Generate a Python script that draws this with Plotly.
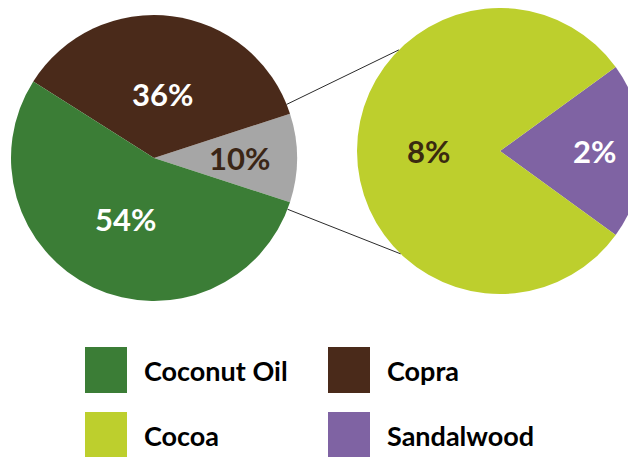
import math
import plotly.graph_objects as go

# Left pie: export share
main_labels = ['Other', 'Copra', 'Coconut Oil']
main_values = [10, 36, 54]
main_colors = ['#a6a6a6', '#4a2a1a', '#3b7d36']
main_text_colors = ['#3b2616', '#ffffff', '#ffffff']

# Right pie: breakdown of "Other"
sub_labels = ['Sandalwood', 'Cocoa']
sub_values = [2, 8]
sub_colors = ['#7f63a3', '#bdcf2d']
sub_text_colors = ['#ffffff', '#3a2a10']

legend_labels = ['Coconut Oil', 'Copra', 'Cocoa', 'Sandalwood']
legend_colors = ['#3b7d36', '#4a2a1a', '#bdcf2d', '#7f63a3']

W, H = 636, 457
OFF = 8  # body margin of the html page
FONT = 'Lato, "Open Sans", sans-serif'

# pie domains in page pixels (x0, x1, y_top, y_bottom)
L_DOM = (11, 297, 15, 301)
R_DOM = (357, 643, 8, 294)
# first slice starts (math degrees) so the first slice is centred on 3 o'clock
L_START, R_START = -18, -36


def px(x, y):
    return (x - OFF) / W, 1 - (y - OFF) / H


def geom(dom):
    x0, x1, y0, y1 = dom
    r = min(x1 - x0, y1 - y0) / 2
    return (x0 + x1) / 2, (y0 + y1) / 2, r


def rotation_for(values, start):
    # plotly (counterclockwise): first slice spans compass [rot, rot + w0]
    w0 = values[0] / sum(values) * 360
    return 90 - start - w0


def slice_angles(values, start):
    total = sum(values)
    out, cum = [], 0
    for v in values:
        a0 = start + cum / total * 360
        cum += v
        out.append((a0, start + cum / total * 360))
    return out


def on_circle(cx, cy, r, ang):
    return cx + r * math.cos(math.radians(ang)), cy - r * math.sin(math.radians(ang))


fig = go.Figure()
for labels, values, colors, dom, start in [
    (main_labels, main_values, main_colors, L_DOM, L_START),
    (sub_labels, sub_values, sub_colors, R_DOM, R_START),
]:
    x0, y1 = px(dom[0], dom[2])
    x1, y0 = px(dom[1], dom[3])
    fig.add_trace(go.Pie(
        labels=labels, values=values, sort=False, direction='counterclockwise',
        rotation=rotation_for(values, start),
        marker={'colors': colors, 'line': {'width': 0}},
        textinfo='none', hoverinfo='label+percent',
        domain={'x': [x0, x1], 'y': [y0, y1]},
    ))

annotations = []
shapes = []

# slice labels
label_radii = {'main': [0.6, 0.45, 0.47], 'sub': [0.66, 0.5]}
for key, values, tcolors, dom, start in [
    ('main', main_values, main_text_colors, L_DOM, L_START),
    ('sub', sub_values, sub_text_colors, R_DOM, R_START),
]:
    cx, cy, r = geom(dom)
    for i, (a0, a1) in enumerate(slice_angles(values, start)):
        ax, ay = px(*on_circle(cx, cy, r * label_radii[key][i], (a0 + a1) / 2))
        annotations.append(dict(
            x=ax, y=ay, xref='paper', yref='paper', xanchor='center', yanchor='middle',
            showarrow=False, text=f'{values[i]}%',
            font={'family': FONT, 'size': 31, 'color': tcolors[i], 'weight': 700},
        ))

# connector lines from the "Other" slice to the breakdown pie
lcx, lcy, lr = geom(L_DOM)
rcx, rcy, rr = geom(R_DOM)
a0, a1 = slice_angles(main_values, L_START)[0]
for la, ra in [(a1 + 4, 135), (a0 - 3, 226)]:
    x0, y0 = px(*on_circle(lcx, lcy, lr, la))
    x1, y1 = px(*on_circle(rcx, rcy, rr, ra))
    shapes.append(dict(type='line', xref='paper', yref='paper', x0=x0, y0=y0, x1=x1, y1=y1,
                       line={'color': '#2b2b2b', 'width': 1}))

# legend (2 x 2 grid with big swatches)
col_x = [85, 328]
row_y = [347, 412]
for i, (lab, col) in enumerate(zip(legend_labels, legend_colors)):
    sx, sy = col_x[i % 2], row_y[i // 2]
    x0, y0 = px(sx, sy)
    x1, y1 = px(sx + 42, sy + 46)
    shapes.append(dict(type='rect', xref='paper', yref='paper', x0=x0, y0=y1, x1=x1, y1=y0,
                       fillcolor=col, line={'width': 0}))
    tx, ty = px(sx + 57, sy + 23)
    annotations.append(dict(
        x=tx, y=ty, xref='paper', yref='paper', xanchor='left', yanchor='middle',
        showarrow=False, text=lab,
        font={'family': FONT, 'size': 27, 'color': '#000000', 'weight': 700},
    ))

fig.update_layout(
    width=W, height=H,
    margin={'l': 0, 'r': 0, 't': 0, 'b': 0},
    paper_bgcolor='white', plot_bgcolor='white',
    showlegend=False,
    annotations=annotations, shapes=shapes,
)

fig.write_html("out.html")
